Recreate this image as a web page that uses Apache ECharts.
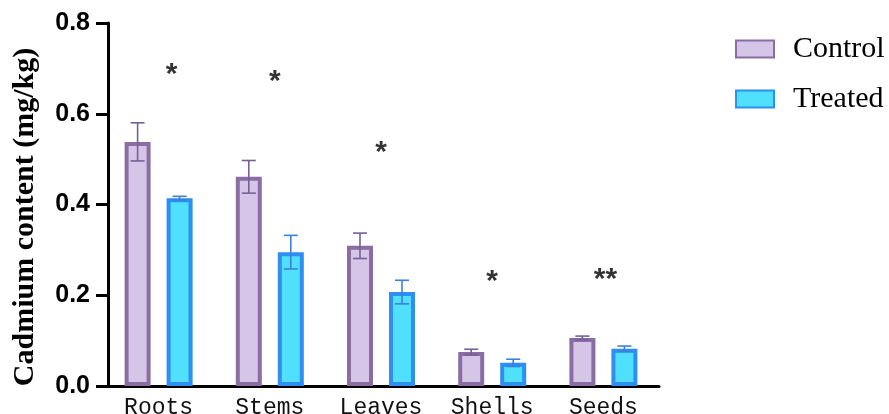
<!DOCTYPE html>
<html>
<head>
<meta charset="utf-8">
<script src="https://cdn.jsdelivr.net/npm/echarts@6/dist/echarts.min.js"></script>
<style>html,body{margin:0;padding:0;background:#fff;}#c{width:889px;height:414px;}</style>
</head>
<body>
<div id="c"></div>
<script>
const categories = ['Roots', 'Stems', 'Leaves', 'Shells', 'Seeds'];
const controlMean = [0.538, 0.461, 0.309, 0.075, 0.106];
const controlErr  = [0.042, 0.036, 0.028, 0.006, 0.004];
const treatedMean = [0.414, 0.295, 0.207, 0.051, 0.082];
const treatedErr  = [0.004, 0.037, 0.026, 0.008, 0.006];
const sigLabels = ['*', '*', '*', '*', '**'];
const sigLevel  = [0.685, 0.67, 0.515, 0.23, 0.235];
const yTicks = [0, 0.2, 0.4, 0.6, 0.8];

const BAR_W = 26, BAR_GAP = 16;
const half = (BAR_W + BAR_GAP) / 2;

function errSeries(name, means, errs, dir, color) {
  return {
    type: 'custom',
    name: name + ' err',
    z: 10,
    silent: true,
    data: means.map((m, i) => [i, m - errs[i], m + errs[i]]),
    renderItem: function (params, api) {
      const c = api.value(0);
      const lo = api.coord([c, api.value(1)]);
      const hi = api.coord([c, api.value(2)]);
      const x = lo[0] + dir * half;
      const cap = 7;
      const st = { stroke: color, lineWidth: 1.6 };
      return {
        type: 'group',
        children: [
          { type: 'line', shape: { x1: x, y1: lo[1], x2: x, y2: hi[1] }, style: st },
          { type: 'line', shape: { x1: x - cap, y1: hi[1], x2: x + cap, y2: hi[1] }, style: st },
          { type: 'line', shape: { x1: x - cap, y1: lo[1], x2: x + cap, y2: lo[1] }, style: st }
        ]
      };
    }
  };
}

const sigOffsets = [13, 5, 0, 0, 2];

const chart = echarts.init(document.getElementById('c'));
chart.setOption({
  animation: false,
  backgroundColor: '#fff',
  grid: { left: 103, width: 556, top: 23, height: 363, outerBoundsMode: 'none', containLabel: false },
  legend: {
    data: ['Control', 'Treated'],
    orient: 'vertical',
    left: 730, top: 29,
    icon: 'rect',
    itemWidth: 38, itemHeight: 17, itemGap: 20,
    textStyle: { fontFamily: 'Liberation Serif', fontSize: 30, color: '#000', padding: [0, 0, 0, 14] }
  },
  xAxis: {
    type: 'category',
    data: categories,
    axisLine: { lineStyle: { color: '#000', width: 3 } },
    axisTick: { inside: true, alignWithLabel: true, length: 9, lineStyle: { color: '#000', width: 3 } },
    axisLabel: { fontFamily: 'Liberation Mono', fontSize: 23, color: '#111', margin: 10 }
  },
  yAxis: {
    type: 'value',
    min: yTicks[0], max: yTicks[yTicks.length - 1], interval: 0.2,
    offset: -5,
    name: 'Cadmium content (mg/kg)',
    nameLocation: 'middle',
    nameGap: 68,
    nameTextStyle: { fontFamily: 'Liberation Serif', fontWeight: 'bold', fontSize: 30, color: '#000', padding: [0, 25, 0, 0] },
    axisLine: { show: true, lineStyle: { color: '#000', width: 3 } },
    axisTick: { show: true, length: 12, lineStyle: { color: '#000', width: 3 } },
    splitLine: { show: false },
    axisLabel: {
      fontFamily: 'Liberation Sans', fontWeight: 'bold', fontSize: 25, color: '#000', margin: 18,
      formatter: v => v.toFixed(1)
    }
  },
  series: [
    {
      name: 'Control', type: 'bar', data: controlMean,
      barWidth: BAR_W, barGap: (BAR_GAP / BAR_W * 100) + '%',
      itemStyle: { color: '#d5c5e6', borderColor: '#8a6da3', borderWidth: 4 }
    },
    {
      name: 'Treated', type: 'bar', data: treatedMean,
      barWidth: BAR_W,
      itemStyle: { color: '#4ee0fc', borderColor: '#2e8ef2', borderWidth: 4 }
    },
    errSeries('Control', controlMean, controlErr, -1, '#76609a'),
    errSeries('Treated', treatedMean, treatedErr, 1, '#3a80dc'),
    {
      type: 'scatter', silent: true, symbolSize: 0, z: 11,
      data: sigLevel.map((v, i) => ({
        value: [i, v],
        label: { offset: [sigOffsets[i], 0] }
      })),
      label: {
        show: true, position: 'inside',
        formatter: p => sigLabels[p.dataIndex],
        fontFamily: 'Liberation Sans', fontWeight: 'bold', fontSize: 30, color: '#000'
      }
    }
  ]
});
</script>
</body>
</html>
